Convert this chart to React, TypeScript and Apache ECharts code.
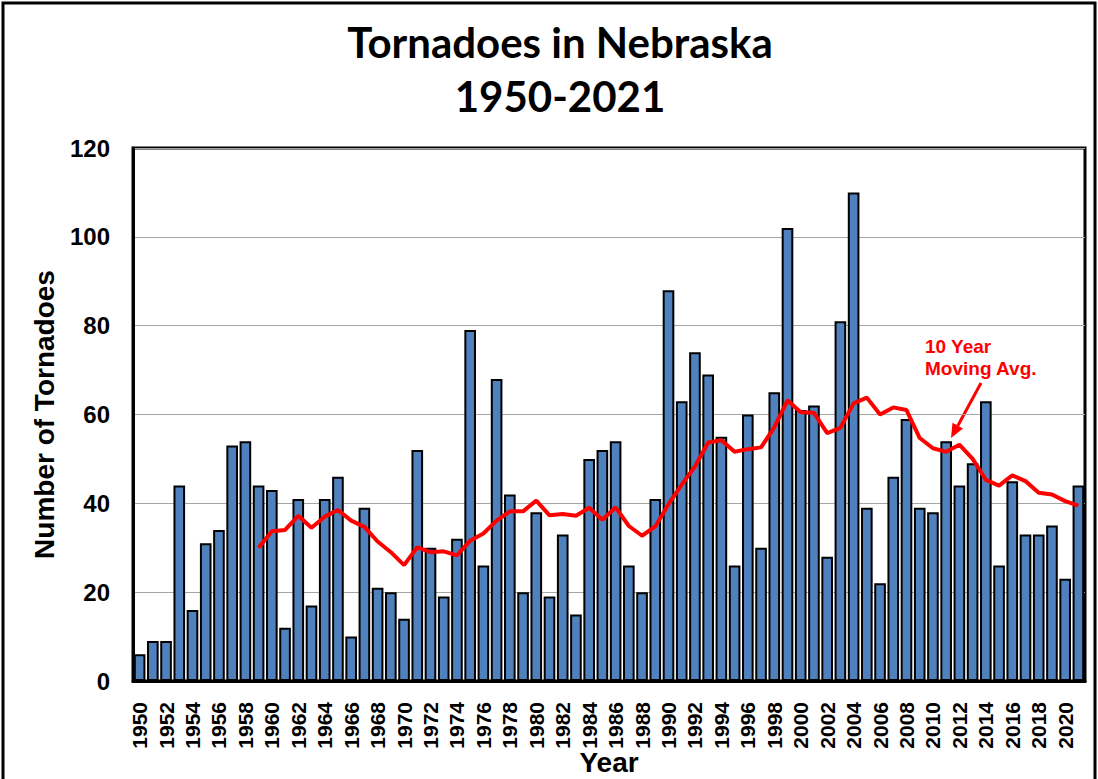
import React, { useEffect, useRef } from "react";
import * as echarts from "echarts";

const years: string[] = [
  "1950","1951","1952","1953","1954","1955","1956","1957","1958","1959",
  "1960","1961","1962","1963","1964","1965","1966","1967","1968","1969",
  "1970","1971","1972","1973","1974","1975","1976","1977","1978","1979",
  "1980","1981","1982","1983","1984","1985","1986","1987","1988","1989",
  "1990","1991","1992","1993","1994","1995","1996","1997","1998","1999",
  "2000","2001","2002","2003","2004","2005","2006","2007","2008","2009",
  "2010","2011","2012","2013","2014","2015","2016","2017","2018","2019",
  "2020","2021",
];

const tornadoes: number[] = [
  6, 9, 9, 44, 16, 31, 34, 53, 54, 44,
  43, 12, 41, 17, 41, 46, 10, 39, 21, 20,
  14, 52, 30, 19, 32, 79, 26, 68, 42, 20,
  38, 19, 33, 15, 50, 52, 54, 26, 20, 41,
  88, 63, 74, 69, 55, 26, 60, 30, 65, 102,
  61, 62, 28, 81, 110, 39, 22, 46, 59, 39,
  38, 54, 44, 49, 63, 26, 45, 33, 33, 35,
  23, 44,
];

// 10-year moving average (starts in 1959)
const movingAvg: (number | null)[] = [
  null, null, null, null, null, null, null, null, null, 30.0,
  33.7, 34.0, 37.2, 34.5, 37.0, 38.5, 36.1, 34.7, 31.4, 29.0,
  26.1, 30.1, 29.0, 29.2, 28.3, 31.6, 33.2, 36.1, 38.2, 38.2,
  40.6, 37.3, 37.6, 37.2, 39.0, 36.3, 39.1, 34.9, 32.7, 34.8,
  39.8, 44.2, 48.3, 53.7, 54.2, 51.6, 52.2, 52.6, 57.1, 63.2,
  60.5, 60.4, 55.8, 57.0, 62.5, 63.8, 60.0, 61.6, 61.0, 54.7,
  52.4, 51.6, 53.2, 50.0, 45.3, 44.0, 46.3, 45.0, 42.4, 42.0,
  40.5, 39.5,
];

const yTicks = { min: 0, max: 120, interval: 20 };

export default function App() {
  const ref = useRef<HTMLDivElement>(null);
  useEffect(() => {
    if (!ref.current) return;
    const chart = echarts.init(ref.current, null, { renderer: "svg" });
    const arial = "'Liberation Sans', Arial, sans-serif";
    const narrow = "'Liberation Sans Narrow', 'Arial Narrow', sans-serif";
    chart.setOption({
      animation: false,
      backgroundColor: "#ffffff",
      title: {
        text: "Tornadoes in Nebraska\n1950-2021",
        left: 555,
        textAlign: "center",
        top: 10,
        textStyle: {
          fontFamily: "Lato, sans-serif",
          fontWeight: "bold",
          fontSize: 42,
          lineHeight: 54,
          color: "#000",
        },
      },
      grid: {
        left: 133,
        right: 13,
        top: 148,
        bottom: 98,
        show: true,
        borderColor: "#000",
        borderWidth: 3,
        containLabel: false,
        outerBoundsMode: "none",
      },
      xAxis: {
        type: "category",
        data: years,
        name: "Year",
        nameLocation: "middle",
        nameGap: 67,
        nameMoveOverlap: false,
        nameTextStyle: { fontFamily: arial, fontWeight: "bold", fontSize: 28, color: "#000" },
        axisLine: { show: true, lineStyle: { color: "#000", width: 3 } },
        axisTick: { show: false },
        axisLabel: {
          interval: 1,
          rotate: 90,
          margin: 21,
          fontFamily: narrow,
          fontWeight: "bold",
          fontSize: 21,
          color: "#000",
        },
      },
      yAxis: {
        type: "value",
        min: yTicks.min,
        max: yTicks.max,
        interval: yTicks.interval,
        name: "Number of Tornadoes",
        nameLocation: "middle",
        nameGap: 75,
        nameRotate: 90,
        nameMoveOverlap: false,
        nameTextStyle: { fontFamily: arial, fontWeight: "bold", fontSize: 28, color: "#000" },
        axisLine: { show: true, lineStyle: { color: "#000", width: 3 } },
        axisTick: { show: false },
        axisLabel: {
          margin: 23,
          fontFamily: arial,
          fontWeight: "bold",
          fontSize: 24,
          color: "#000",
        },
        splitLine: { show: true, lineStyle: { color: "#a6a6a6", width: 1 } },
      },
      series: [
        {
          type: "bar",
          data: tornadoes,
          barCategoryGap: "12%",
          itemStyle: { color: "#4f81bd", borderColor: "#000", borderWidth: 2 },
          z: 2,
        },
        {
          type: "line",
          data: movingAvg,
          showSymbol: false,
          symbol: "none",
          lineStyle: { color: "#ff0000", width: 4 },
          z: 3,
        },
      ],
      graphic: [
        {
          type: "rect",
          shape: { x: 3, y: 3, width: 1092, height: 800 },
          style: { fill: "none", stroke: "#000", lineWidth: 3 },
          silent: true,
        },
        {
          type: "text",
          x: 925,
          y: 335,
          style: {
            text: "10 Year\nMoving Avg.",
            fill: "#ff0000",
            font: "bold 19px 'Liberation Sans', Arial, sans-serif",
            align: "left",
            lineHeight: 22,
          },
        },
        {
          type: "line",
          shape: { x1: 981, y1: 383, x2: 957.8, y2: 425.8 },
          style: { stroke: "#ff0000", lineWidth: 3 },
        },
        {
          type: "polygon",
          shape: { points: [[951, 438], [963, 428.6], [952.5, 422.8]] },
          style: { fill: "#ff0000" },
        },
      ],
    });
    return () => chart.dispose();
  }, []);
  return (
    <div
      ref={ref}
      style={{ position: "fixed", left: 0, top: 0, width: 1098, height: 779 }}
    />
  );
}
